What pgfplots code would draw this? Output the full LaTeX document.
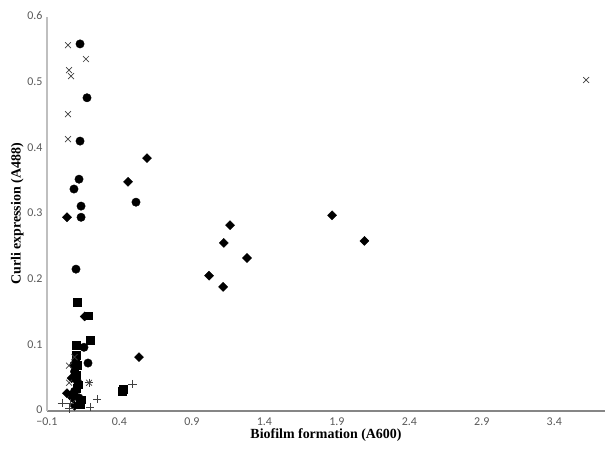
\documentclass[border=0pt]{standalone}
\usepackage{fontspec}
\setmainfont{Liberation Serif}
\newfontfamily\carlito{Carlito}
\usepackage{pgfplots}
\pgfplotsset{compat=1.18}
\definecolor{ticktxt}{HTML}{595959}
\definecolor{xline}{HTML}{868686}
\definecolor{yline}{HTML}{BFBFBF}
\definecolor{xmk}{HTML}{404040}

\begin{document}
\begin{tikzpicture}
\begin{axis}[
  scale only axis,
  width=558bp, height=394bp,
  xmin=-0.1, xmax=3.75, ymin=0, ymax=0.6,
  axis x line*=bottom, axis y line*=left,
  x axis line style={xline, line width=1.1bp},
  y axis line style={yline, line width=1.3bp},
  major tick length=0pt,
  xtick={-0.1,0.4,0.9,1.4,1.9,2.4,2.9,3.4},
  xticklabels={−0.1,0.4,0.9,1.4,1.9,2.4,2.9,3.4},
  ytick={0,0.1,0.2,0.3,0.4,0.5,0.6},
  yticklabels={0,0.1,0.2,0.3,0.4,0.5,0.6},
  tick label style={font=\carlito\fontsize{12}{14}\selectfont, text=ticktxt},
  xticklabel style={yshift=-3.5bp},
  yticklabel style={xshift=-1bp, yshift=1bp},
  xlabel={\textbf{Biofilm formation (A600)}},
  ylabel={\textbf{Curli expression (A488)}},
  label style={font=\fontsize{14}{16}\selectfont},
  xlabel style={yshift=4bp},
  ylabel style={yshift=-3bp},
  clip=false,
]
% circles
\addplot[only marks, mark=*, mark size=4.2bp, black] coordinates {
(0.128,0.559) (0.176,0.477) (0.128,0.411) (0.121,0.353) (0.086,0.338)
(0.135,0.312) (0.135,0.295) (0.514,0.318) (0.100,0.216) (0.155,0.097)
(0.183,0.073) (0.100,0.078) (0.090,0.060) (0.110,0.045) (0.090,0.030)
(0.120,0.020) (0.085,0.070) (0.095,0.050)
};
% squares
\addplot[only marks, mark=square*, mark size=3.8bp, black] coordinates {
(0.107,0.166) (0.183,0.145) (0.197,0.108) (0.100,0.100) (0.424,0.033)
(0.418,0.030) (0.140,0.017) (0.100,0.085) (0.110,0.070) (0.100,0.055)
(0.120,0.040) (0.080,0.025) (0.130,0.010) (0.090,0.065) (0.105,0.035)
};
% diamonds
\addplot[only marks, mark=square*, mark size=3.2bp, black, mark options={rotate=45}] coordinates {
(0.038,0.295) (0.590,0.385) (0.459,0.349) (1.867,0.298) (1.163,0.283)
(1.120,0.256) (1.280,0.233) (1.018,0.206) (1.115,0.189) (2.090,0.259)
(0.535,0.082) (0.160,0.144) (0.038,0.027) (0.070,0.050) (0.090,0.008)
(0.075,0.020)
};
% crosses
\addplot[only marks, mark=x, mark size=4.2bp, xmk, mark options={line width=0.7bp}] coordinates {
(0.045,0.557) (0.169,0.536) (0.052,0.519) (0.066,0.510) (0.045,0.452)
(0.045,0.414) (3.620,0.504) (0.052,0.069) (0.052,0.043) (0.190,0.043)
(0.090,0.082)
};
% plus
\addplot[only marks, mark=+, mark size=4.2bp, xmk, mark options={line width=0.7bp}] coordinates {
(0.490,0.041) (0.245,0.018) (0.197,0.006) (0.003,0.012) (0.060,0.012)
(0.055,0.004) (0.190,0.043)
};
\end{axis}
\pgfresetboundingbox
\useasboundingbox ([xshift=-47bp,yshift=-41bp]current axis.south west) rectangle ([xshift=6bp,yshift=17bp]current axis.north east);
\end{tikzpicture}
\end{document}
